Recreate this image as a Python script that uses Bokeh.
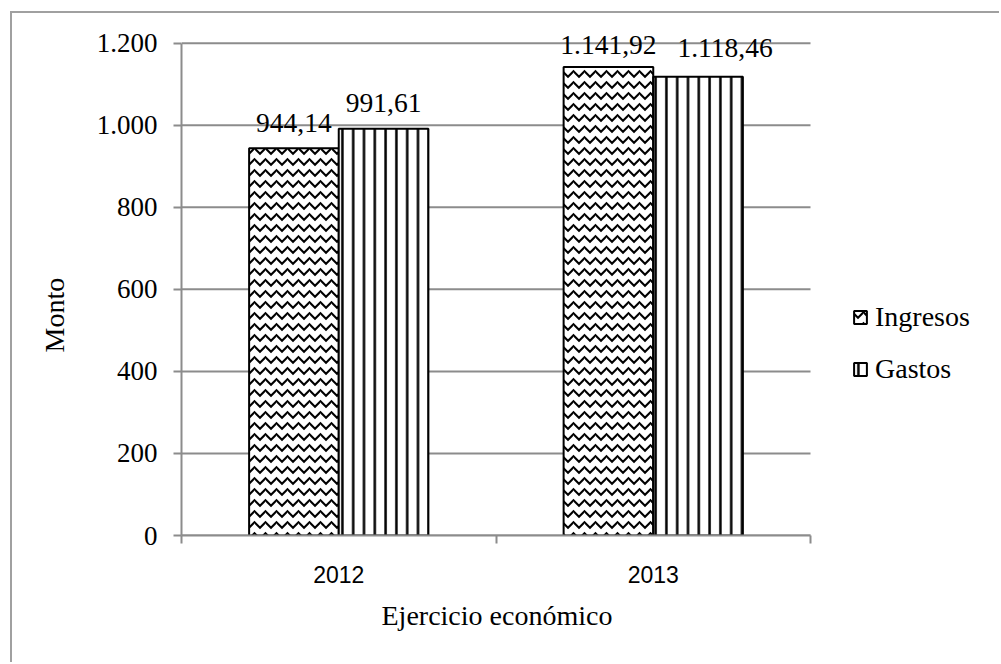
from bokeh.plotting import figure
from bokeh.models import (ColumnDataSource, FixedTicker, LinearAxis, Legend,
                          LegendItem, Range1d, LabelSet, Title)
from bokeh.embed import file_html
from bokeh.resources import INLINE

# Data: revenue and expenses per fiscal year
years = ["2012", "2013"]
ingresos = [944.14, 1141.92]
gastos = [991.61, 1118.46]

y_ticks = [0, 200, 400, 600, 800, 1000, 1200]
y_tick_labels = ["0", "200", "400", "600", "800", "1.000", "1.200"]


def es_number(v):
    """Spanish-style number: dot for thousands, comma for decimals."""
    s = f"{v:,.2f}"
    return s.replace(",", "#").replace(".", ",").replace("#", ".")


SERIF = "Liberation Serif"
SANS = "Liberation Sans"
GRID_GRAY = "#8c8c8c"

n = len(years)
bar_w = 0.285

# Canvas geometry (the outer frame line is drawn with CSS borders)
W, H = 989, 651
left_b, top_b, bottom_b = 169, 5, 129
px_per_cat = 314.5                      # horizontal pixels per year group
px_per_unit = 492.3 / y_ticks[-1]       # vertical pixels per unit
frame_w = W - left_b
frame_h = H - top_b - bottom_b
x_end = frame_w / px_per_cat
y_end = frame_h / px_per_unit

p = figure(width=W, height=H, output_backend="svg", toolbar_location=None,
           x_range=Range1d(0, x_end), y_range=Range1d(0, y_end),
           x_axis_type=None, y_axis_type=None,
           min_border_left=left_b, min_border_right=0,
           min_border_top=top_b, min_border_bottom=bottom_b)
p.outline_line_color = None
p.background_fill_color = "white"
p.border_fill_color = "white"
p.styles = {"margin-left": "10px", "margin-top": "11px",
            "border-left": "2px solid #a0a0a0",
            "border-top": "2px solid #a0a0a0"}

# Vertical axis
yaxis = LinearAxis(ticker=FixedTicker(ticks=y_ticks),
                   major_label_overrides=dict(zip(y_ticks, y_tick_labels)),
                   bounds=(y_ticks[0], y_ticks[-1]))
yaxis.axis_line_color = GRID_GRAY
yaxis.axis_line_width = 2
yaxis.major_tick_line_color = GRID_GRAY
yaxis.major_tick_line_width = 2
yaxis.major_tick_out = 8
yaxis.major_tick_in = 0
yaxis.minor_tick_line_color = None
yaxis.major_label_standoff = 16
yaxis.major_label_text_font = SERIF
yaxis.major_label_text_font_size = "27px"
yaxis.major_label_text_color = "black"
p.add_layout(yaxis, "left")

# Horizontal axis: labels centred on each year, tick marks on the boundaries
xticker = FixedTicker(ticks=[i + 0.5 for i in range(n)],
                      minor_ticks=list(range(n + 1)))
xaxis = LinearAxis(ticker=xticker,
                   major_label_overrides={i + 0.5: y for i, y in enumerate(years)},
                   bounds=(0, n))
xaxis.axis_line_color = GRID_GRAY
xaxis.axis_line_width = 2
xaxis.major_tick_line_color = None
xaxis.major_tick_out = 0
xaxis.major_tick_in = 0
xaxis.minor_tick_line_color = GRID_GRAY
xaxis.minor_tick_line_width = 2
xaxis.minor_tick_out = 8
xaxis.minor_tick_in = 0
xaxis.major_label_standoff = 22
xaxis.major_label_text_font = SANS
xaxis.major_label_text_font_size = "23px"
xaxis.major_label_text_color = "black"
p.add_layout(xaxis, "below")

# Axis titles, placed over the plotted area rather than the whole frame
x_title = Title(text="Ejercicio económico", align="left",
                offset=200, standoff=25,
                text_font=SERIF, text_font_size="28px",
                text_font_style="normal", text_color="black")
p.add_layout(x_title, "below")

y_title = Title(text="Monto", align="left", offset=183, standoff=47,
                text_font=SERIF, text_font_size="28px",
                text_font_style="normal", text_color="black")
p.add_layout(y_title, "left")

# Horizontal gridlines, spanning only the two year groups
p.segment(x0=[0] * len(y_ticks), x1=[n] * len(y_ticks), y0=y_ticks, y1=y_ticks,
          line_color=GRID_GRAY, line_width=2, level="underlay")

# Bars
centers = [i + 0.5 for i in range(n)]
src = ColumnDataSource(dict(
    x_ing=[c - bar_w / 2 for c in centers],
    x_gas=[c + bar_w / 2 for c in centers],
    ingresos=ingresos,
    gastos=gastos,
))

r_ing = p.vbar(x="x_ing", top="ingresos", width=bar_w, source=src,
               fill_color="white", line_color="black", line_width=2,
               hatch_pattern="horizontal_wave", hatch_color="black",
               hatch_scale=11, hatch_weight=2)
r_gas = p.vbar(x="x_gas", top="gastos", width=bar_w, source=src,
               fill_color="white", line_color="black", line_width=2,
               hatch_pattern="vertical_line", hatch_color="black",
               hatch_scale=10.8, hatch_weight=2.5)

# Value labels above the bars (last one nudged right to clear its neighbour)
ing_dx, ing_dy = [0, 0], [16, 13]
gas_dx, gas_dy = [0, 27], [16.5, 20]
lab_src = ColumnDataSource(dict(
    x=src.data["x_ing"] + src.data["x_gas"],
    y=ingresos + gastos,
    text=[es_number(v) for v in ingresos + gastos],
    dx=ing_dx + gas_dx,
    dy=ing_dy + gas_dy,
))
labels = LabelSet(x="x", y="y", text="text", source=lab_src,
                  x_offset="dx", y_offset="dy",
                  text_align="center", text_baseline="alphabetic",
                  text_font=SERIF, text_font_size="27.5px", text_color="black")
p.add_layout(labels)

legend = Legend(items=[LegendItem(label="Ingresos", renderers=[r_ing]),
                       LegendItem(label="Gastos", renderers=[r_gas])],
                location=(671, 150), orientation="vertical",
                padding=0, margin=0, spacing=20,
                glyph_width=16, glyph_height=16, label_standoff=7,
                border_line_color=None, background_fill_alpha=0)
legend.label_text_font = SERIF
legend.label_text_font_size = "28px"
legend.label_text_color = "black"
p.add_layout(legend)

open("out.html", "w").write(file_html(p, INLINE))
